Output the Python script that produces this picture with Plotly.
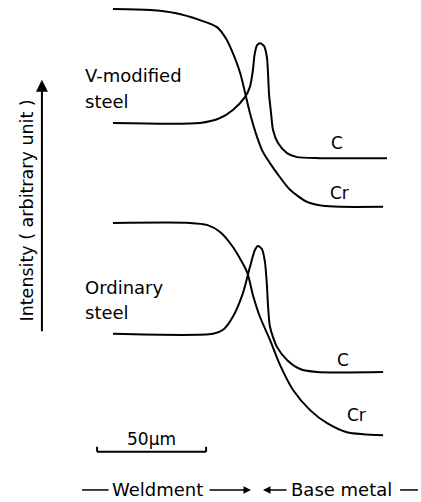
import plotly.graph_objects as go

# distance across the fusion boundary (µm) and intensity (arbitrary units)
vmod_cr_x = [0, 17.0, 28.4, 39.9, 47.7, 52.3, 55.0, 58.3, 60.6, 62.8, 66.1, 68.8, 72.0, 75.2, 81.2, 89.0, 96.3, 104.1, 123.9]
vmod_cr_y = [98.2, 98.0, 97.4, 96.0, 94.6, 92.0, 89.4, 85.5, 81.5, 77.5, 72.7, 69.7, 67.5, 65.5, 62.2, 59.8, 59.0, 58.8, 58.8]

vmod_c_x = [0, 39.9, 49.1, 55.0, 60.6, 62.8, 64.2, 64.9, 66.1, 67.4, 69.3, 70.6, 71.1, 71.6, 72.5, 73.4, 75.7, 79.8, 84.4, 94.9, 125.7]
vmod_c_y = [75.5, 75.5, 76.5, 78.1, 80.7, 82.7, 86.1, 89.0, 91.0, 91.4, 90.8, 88.6, 85.5, 81.1, 77.5, 74.1, 71.5, 69.5, 68.7, 68.5, 68.5]

ord_cr_x = [0, 35.3, 43.1, 49.1, 55.0, 61.5, 64.2, 67.4, 72.0, 76.6, 82.6, 90.4, 98.2, 107.3, 114.7, 123.9]
ord_cr_y = [55.6, 55.6, 55.2, 53.8, 50.8, 45.8, 41.2, 36.9, 32.3, 27.3, 22.3, 18.3, 15.7, 13.9, 13.5, 13.3]

ord_c_x = [0, 45.9, 50.5, 55.0, 59.6, 62.8, 65.1, 66.5, 68.3, 69.7, 70.6, 71.1, 72.0, 75.2, 79.8, 85.8, 93.6, 123.9]
ord_c_y = [33.5, 33.5, 34.3, 36.9, 41.6, 46.8, 50.2, 51.0, 50.4, 47.8, 43.2, 39.2, 34.9, 30.9, 28.3, 26.5, 25.9, 25.9]

scale_bar_um = 50
FONT = "DejaVu Sans"

fig = go.Figure()
for xs, ys in [(vmod_cr_x, vmod_cr_y), (vmod_c_x, vmod_c_y), (ord_cr_x, ord_cr_y), (ord_c_x, ord_c_y)]:
    fig.add_trace(go.Scatter(x=xs, y=ys, mode="lines",
                             line=dict(color="black", width=2, shape="spline", smoothing=0.7),
                             showlegend=False, hoverinfo="skip"))

def txt(x, y, s, size=18, xanchor="left", angle=0):
    fig.add_annotation(x=x, y=y, text=s, showarrow=False, xanchor=xanchor, yanchor="middle",
                       textangle=angle, font=dict(family=FONT, size=size, color="black"))

txt(-13.8, 84.9, "V-modified")
txt(-13.8, 79.7, "steel")
txt(-13.8, 42.8, "Ordinary")
txt(-13.8, 37.8, "steel")
txt(102.8, 71.5, "C", 17, "center")
txt(104.1, 61.6, "Cr", 17, "center")
txt(105.5, 28.3, "C", 17, "center")
txt(111.9, 17.3, "Cr", 17, "center")

# intensity axis arrow
fig.add_annotation(x=-32.6, y=84.1, ax=-32.6, ay=33.7, xref="x", yref="y", axref="x", ayref="y",
                   showarrow=True, arrowhead=2, arrowsize=1.2, arrowwidth=2, arrowcolor="black", text="")
txt(-39.6, 58.0, "Intensity ( arbitrary unit )", 17.5, "center", -90)

# scale bar
x0s = -7.3
fig.add_shape(type="line", x0=x0s, x1=x0s + scale_bar_um, y0=10.0, y1=10.0, line=dict(color="black", width=2))
fig.add_shape(type="line", x0=x0s, x1=x0s, y0=10.0, y1=11.0, line=dict(color="black", width=2))
fig.add_shape(type="line", x0=x0s + scale_bar_um, x1=x0s + scale_bar_um, y0=10.0, y1=11.0, line=dict(color="black", width=2))
txt(x0s + scale_bar_um / 2, 12.6, "50µm", 17, "center")

# bottom legend: Weldment -> <- Base metal
yb = 2.4
fig.add_shape(type="line", x0=-14.2, x1=-2.0, y0=yb, y1=yb, line=dict(color="black", width=1.5))
txt(20.2, yb, "Weldment", 18, "center")
fig.add_annotation(x=63.3, y=yb, ax=43.6, ay=yb, xref="x", yref="y", axref="x", ayref="y",
                   showarrow=True, arrowhead=2, arrowsize=1, arrowwidth=1.5, arrowcolor="black", text="")
fig.add_annotation(x=68.8, y=yb, ax=80.3, ay=yb, xref="x", yref="y", axref="x", ayref="y",
                   showarrow=True, arrowhead=2, arrowsize=1, arrowwidth=1.5, arrowcolor="black", text="")
txt(105.0, yb, "Base metal", 18, "center")
fig.add_shape(type="line", x0=131.7, x1=139.9, y0=yb, y1=yb, line=dict(color="black", width=1.5))

fig.update_xaxes(range=[-51.83, 141.28], visible=False)
fig.update_yaxes(range=[0, 100], visible=False)
fig.update_layout(width=421, height=502, margin=dict(l=0, r=0, t=0, b=0),
                  plot_bgcolor="white", paper_bgcolor="white")
fig.write_html("out.html", config={"displayModeBar": False},
               post_script="document.body.style.margin='0px';document.body.style.overflow='hidden';")
